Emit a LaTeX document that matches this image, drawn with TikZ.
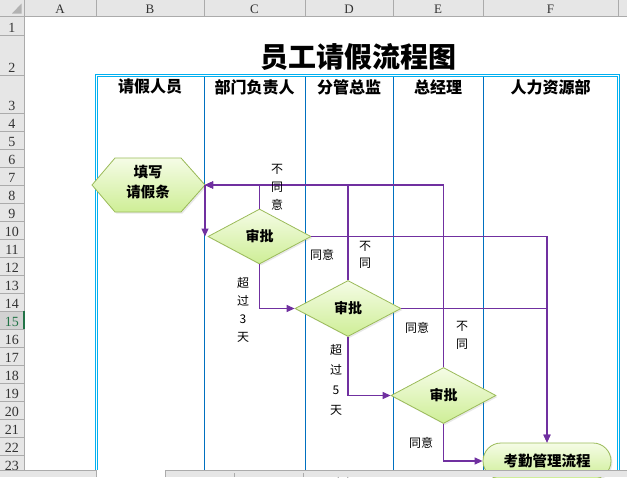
\documentclass[tikz,border=0pt]{standalone}
\usepackage{fontspec}
\setmainfont{Liberation Serif}
\newfontfamily\cjk{Noto Sans CJK SC}
\usetikzlibrary{shapes.geometric,arrows.meta,shadows}
\definecolor{hdrbg}{RGB}{230,230,230}
\definecolor{hdrsel}{RGB}{210,210,210}
\definecolor{hdrline}{RGB}{171,171,171}
\definecolor{cyanb}{RGB}{0,176,240}
\definecolor{blueb}{RGB}{0,112,192}
\definecolor{purp}{RGB}{112,48,160}
\definecolor{shpline}{RGB}{155,187,89}
\definecolor{shptop}{RGB}{245,252,230}
\definecolor{shpbot}{RGB}{206,238,150}
\definecolor{xlgreen}{RGB}{33,115,70}
\begin{document}
\begin{tikzpicture}[x=1pt,y=-1pt,
  conn/.style={draw=purp, line width=1.2pt, -{Triangle[length=8pt,width=7pt]}},
  flow/.style={draw=shpline, line width=0.8pt, top color=shptop, bottom color=shpbot,
     drop shadow={opacity=0.18,shadow xshift=1.5pt,shadow yshift=-1.5pt}},
  dia/.style={flow, diamond, inner sep=0pt, font=\cjk\bfseries\fontsize{14}{14}\selectfont},
  lbl/.style={inner sep=0pt, align=center, font=\cjk\fontsize{12}{18}\selectfont},
  hdr/.style={inner sep=0pt, font=\cjk\bfseries\fontsize{16}{16}\selectfont},
  colh/.style={inner sep=0pt, text=black!80, font=\fontsize{13}{13}\selectfont},
  rowh/.style={inner sep=0pt, text=black!80, font=\fontsize{14}{14}\selectfont},
  gridl/.style={draw=hdrline, line width=0.8pt},
  tborder/.style={draw=cyanb, line width=0.9pt},
  tdiv/.style={draw=blueb, line width=1pt},
]
\useasboundingbox (0,0) rectangle (627,477);
\fill[white] (0,0) rectangle (627,477);

% table frame
\draw[tborder] (95.5,470) -- (95.5,74.5) -- (619.5,74.5) -- (619.5,470);
\draw[tborder] (97.7,470) -- (97.7,76.7) -- (617.3,76.7) -- (617.3,470);
\foreach \x in {204.5,305.5,393.5,483.5} \draw[tdiv] (\x,77) -- (\x,470);

% title and headers
\node[inner sep=0pt, font=\cjk\bfseries\fontsize{28}{28}\selectfont] (title) at (358.5,57) {员工请假流程图};
\node[hdr] (h1) at (150,87) {请假人员};
\node[hdr] (h2) at (254.5,87) {部门负责人};
\node[hdr] (h3) at (349,87) {分管总监};
\node[hdr] (h4) at (438,87) {总经理};
\node[hdr] (h5) at (550.5,87) {人力资源部};

% shapes
\path[flow] (92,185) -- (115,158) -- (181,158) -- (205,185) -- (181,212) -- (115,212) -- cycle;
\node[inner sep=0pt, align=center, font=\cjk\bfseries\fontsize{14.5}{20}\selectfont] (hex) at (148,182) {填写\\请假条};
\coordinate (hexE) at (205,185);
\node[dia, minimum width=103pt, minimum height=55pt] (d1) at (259.5,236.5) {审批};
\node[dia, minimum width=106pt, minimum height=56pt] (d2) at (348,308.5) {审批};
\node[dia, minimum width=105pt, minimum height=56pt] (d3) at (443.5,395.5) {审批};
\node[flow, rounded corners=18pt, minimum width=128pt, minimum height=36pt, inner sep=0pt,
      font=\cjk\bfseries\fontsize{14.5}{14.5}\selectfont] (rr) at (547,461) {考勤管理流程};

% connectors
\draw[conn] (d1.north) |- (hexE);
\draw[conn] (d2.north) |- (hexE);
\draw[conn] (d3.north) |- (hexE);
\draw[conn] (hexE) -- (hexE |- d1.west);
\draw[conn] (d1.east) -| (rr.north);
\draw[conn] (d2.east) -| (rr.north);
\draw[conn] (d1.south) |- (d2.west);
\draw[conn] (d2.south) |- (d3.west);
\draw[conn] (d3.south) |- (rr.west);

% labels
\node[lbl] (nty1) at (277,187) {不\\同\\意};
\node[lbl] (ty1) at (322,255) {同意};
\node[lbl, font=\cjk\fontsize{12}{17}\selectfont] (nt2) at (365,255) {不\\同};
\node[lbl] (cg3) at (243,309.5) {超\\过\\3\\天};
\node[lbl, font=\cjk\fontsize{12}{20}\selectfont] (cg5) at (336,380) {超\\过\\5\\天};
\node[lbl] (ty2) at (417,328) {同意};
\node[lbl] (nt3) at (462,335) {不\\同};
\node[lbl] (ty3) at (421,443) {同意};

% Excel column header
\fill[hdrbg] (0,0) rectangle (627,16.5);
\fill[hdrbg] (0,0) rectangle (24,470);
\fill[hdrsel] (0,311) rectangle (24,329);
\fill[black!30] (12,13.5) -- (21.5,13.5) -- (21.5,3.5) -- cycle;
\draw[gridl] (0,16.5) -- (627,16.5);
\draw[gridl] (24,0) -- (24,470);
\foreach \x in {96.5,204.5,305.5,393.5,483.5,618.5} \draw[gridl] (\x,0) -- (\x,16.5);
\node[colh] (ca) at (60,9.5) {A};
\node[colh] (cb) at (150,9.5) {B};
\node[colh] (cc) at (254.5,9.5) {C};
\node[colh] (cd) at (349,9.5) {D};
\node[colh] (ce) at (438,9.5) {E};
\node[colh] (cf) at (550.5,9.5) {F};
% row header
\foreach \y in {35,75} \draw[gridl] (0,\y) -- (24,\y);
\foreach \k in {0,...,19} \draw[gridl] (0,113+18*\k) -- (24,113+18*\k);
\node[rowh] (r1) at (12,28) {1};
\node[rowh] (r2) at (12,68) {2};
\node[rowh] (r3) at (12,106) {3};
\foreach \k in {4,...,23} {
  \ifnum\k=15
    \node[rowh, text=xlgreen] (r\k) at (12,124+18*\k-72) {\k};
  \else
    \node[rowh] (r\k) at (12,124+18*\k-72) {\k};
  \fi
}
\fill[xlgreen] (22.5,311) rectangle (24.5,329);

% bottom bar
\fill[white] (0,470) rectangle (627,477);
\fill[hdrbg] (0,470.5) rectangle (96.5,477);
\draw[gridl] (0,470.5) -- (96.5,470.5) -- (96.5,477);
\fill[hdrbg] (165,470.5) rectangle (627,477);
\draw[gridl] (165,477) -- (165,470.5) -- (627,470.5);
\draw[gridl] (234,473) -- (234,477);
\draw[gridl] (303,473) -- (303,477);
\draw[black!40, line width=0.8pt] (338,477) arc[start angle=180, end angle=0, radius=5];
\end{tikzpicture}
\end{document}
